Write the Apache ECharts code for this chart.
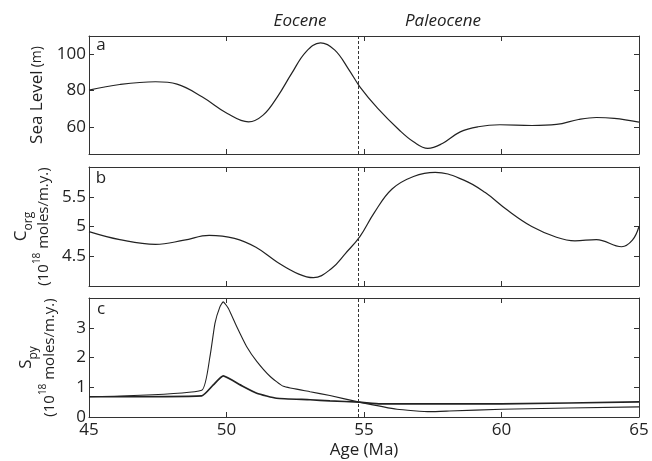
<!DOCTYPE html>
<html>
<head>
<meta charset="utf-8">
<script src="https://cdn.jsdelivr.net/npm/echarts@6/dist/echarts.min.js"></script>
<style>
  html, body { margin: 0; padding: 0; background: #fff; }
  #chart { width: 652px; height: 461px; }
</style>
</head>
<body>
<div id="chart"></div>
<script>
// age axis (Ma)
const ageTicks = [45, 50, 55, 60, 65]
const epochBoundary = 54.8

// panel a: sea level (m)
const ageA = [45, 46.12, 47.42, 48.2, 49.11, 50.03, 50.8, 51.33, 51.85, 52.37, 52.89, 53.42, 53.94, 54.46, 54.85, 55.5, 56.28, 56.8, 57.32, 57.85, 58.5, 59.15, 59.94, 61.1, 62.0, 62.8, 63.45, 64.1, 65]
const seaLevel = [80.2, 83.3, 84.8, 83.5, 76.5, 67.3, 62.7, 66.4, 76.5, 89.4, 101.3, 106.2, 102.2, 91.2, 82, 70.1, 58.2, 51.7, 48.1, 50.8, 57.2, 60, 61.1, 60.7, 61.3, 64, 65.1, 64.6, 62.6]
const ticksA = [60, 80, 100]

// panel b: Corg burial (10^18 moles/m.y.)
const ageB = [45, 46.12, 47.42, 48.46, 49.37, 50.29, 51.07, 51.85, 52.63, 53.16, 53.81, 54.33, 54.85, 55.37, 56.02, 56.8, 57.59, 58.63, 59.41, 60.2, 61.1, 62.0, 62.67, 63.45, 64.37, 64.76, 65]
const corg = [4.915, 4.78, 4.70, 4.77, 4.85, 4.80, 4.65, 4.40, 4.20, 4.14, 4.29, 4.55, 4.83, 5.23, 5.63, 5.84, 5.91, 5.78, 5.57, 5.28, 5.0, 4.82, 4.76, 4.78, 4.66, 4.77, 5.0]
const ticksB = [4.5, 5, 5.5]

// panel c: pyrite burial (10^18 moles/m.y.), two runs
const ageHigh = [45, 49.1, 49.4, 49.58, 49.76, 49.88, 50.07, 50.37, 50.73, 51.1, 51.58, 52.07, 53.04, 53.76, 54.83, 56.2, 57.4, 58.1, 60, 65]
const spyHigh = [0.68, 0.9, 2.04, 3.15, 3.7, 3.87, 3.65, 3.04, 2.37, 1.87, 1.37, 1.03, 0.85, 0.72, 0.5, 0.26, 0.18, 0.2, 0.26, 0.34]
const ageLow = [45, 49.1, 49.52, 49.88, 50.5, 51.1, 51.82, 53.04, 53.76, 54.83, 55.6, 58.1, 60, 65]
const spyLow = [0.68, 0.71, 1.08, 1.38, 1.08, 0.8, 0.63, 0.58, 0.54, 0.5, 0.44, 0.44, 0.44, 0.51]
const ticksC = [0, 1, 2, 3]

const FONT = '"Open Sans", "Noto Sans", sans-serif'
const INK = '#222'
const FRAME = '#333'

const pairs = (xs, ys) => xs.map((x, i) => [x, ys[i]])

const grids = [
  { left: 89, right: 13, top: 36, height: 118 },
  { left: 89, right: 13, top: 167, height: 119 },
  { left: 89, right: 13, top: 298, height: 119 },
]

function xAxisPair(gi, withLabels) {
  const base = {
    gridIndex: gi,
    type: 'value',
    min: ageTicks[0],
    max: ageTicks[ageTicks.length - 1],
    interval: ageTicks[1] - ageTicks[0],
    axisLine: { show: true, onZero: false, lineStyle: { color: FRAME, width: 1 } },
    axisTick: { show: true, inside: true, length: 5, lineStyle: { color: FRAME } },
    splitLine: { show: false },
  }
  const bottom = Object.assign({}, base, {
    position: 'bottom',
    axisLabel: { show: withLabels, color: INK, fontSize: 17, fontFamily: FONT, margin: 5, showMinLabel: true, showMaxLabel: true },
  })
  if (withLabels) {
    Object.assign(bottom, {
      name: 'Age (Ma)',
      nameLocation: 'middle',
      nameGap: 25,
      nameTextStyle: { color: INK, fontSize: 17, fontFamily: FONT },
    })
  }
  const top = Object.assign({}, base, { position: 'top', axisLabel: { show: false } })
  return [bottom, top]
}

function yAxisPair(gi, min, max, ticks, name, nameGap, rich) {
  const base = {
    gridIndex: gi,
    type: 'value',
    min: min,
    max: max,
    axisLine: { show: true, onZero: false, lineStyle: { color: FRAME, width: 1 } },
    axisTick: { show: true, inside: true, length: 5, customValues: ticks, lineStyle: { color: FRAME } },
    splitLine: { show: false },
  }
  const left = Object.assign({}, base, {
    position: 'left',
    axisLabel: { show: true, customValues: ticks, color: INK, fontSize: 17, fontFamily: FONT, margin: 3 },
    name: name,
    nameLocation: 'middle',
    nameRotate: 90,
    nameGap: nameGap,
    nameTextStyle: { color: INK, fontFamily: FONT, rich: rich },
  })
  const right = Object.assign({}, base, { position: 'right', axisLabel: { show: false } })
  return [left, right]
}

const richA = {
  t: { fontSize: 17, fontFamily: FONT, color: INK },
  u: { fontSize: 14, fontFamily: FONT, color: INK },
}
const richFlux = {
  t: { fontSize: 17, fontFamily: FONT, color: INK, lineHeight: 20, verticalAlign: 'top' },
  s: { fontSize: 12, fontFamily: FONT, color: INK, lineHeight: 14, padding: [10, 0, 0, 0], verticalAlign: 'top' },
  p: { fontSize: 15, fontFamily: FONT, color: INK, lineHeight: 18, padding: [4, 0, 0, 0], verticalAlign: 'top' },
  e: { fontSize: 10, fontFamily: FONT, color: INK, lineHeight: 12, verticalAlign: 'top' },
}

const xAxes = [].concat(xAxisPair(0, false), xAxisPair(1, false), xAxisPair(2, true))
const yAxes = [].concat(
  yAxisPair(0, 45, 110, ticksA, '{t|Sea Level} {u|(m)}', 37, richA),
  yAxisPair(1, 4, 6, ticksB, '{t|C}{s|org}\n{p|(10}{e|18}{p| moles/m.y.)}', 33, richFlux),
  yAxisPair(2, 0, 4, ticksC, '{t|S}{s|py}\n{p|(10}{e|18}{p| moles/m.y.)}', 33, richFlux),
)

const boundaryLine = {
  silent: true,
  symbol: ['none', 'none'],
  label: { show: false },
  lineStyle: { color: FRAME, width: 1, type: [3, 2] },
  data: [{ xAxis: epochBoundary }],
}

function curve(xi, yi, data, width, smooth) {
  return {
    type: 'line',
    xAxisIndex: xi,
    yAxisIndex: yi,
    data: data,
    smooth: smooth,
    showSymbol: false,
    symbol: 'none',
    lineStyle: { color: INK, width: width },
    animation: false,
  }
}

const series = [
  Object.assign(curve(0, 0, pairs(ageA, seaLevel), 1.2, 0.4), { markLine: boundaryLine }),
  Object.assign(curve(2, 2, pairs(ageB, corg), 1.2, 0.4), { markLine: boundaryLine }),
  Object.assign(curve(4, 4, pairs(ageHigh, spyHigh), 1.1, 0.15), { markLine: boundaryLine }),
  curve(4, 4, pairs(ageLow, spyLow), 1.7, 0.15),
]

function label(text, x, y, italic) {
  return {
    type: 'text',
    x: x,
    y: y,
    style: {
      text: text,
      fill: INK,
      font: (italic ? 'italic ' : '') + '17px ' + FONT,
      textAlign: 'center',
      textVerticalAlign: 'middle',
    },
  }
}

const chart = echarts.init(document.getElementById('chart'), null, { renderer: 'canvas' })
chart.setOption({
  backgroundColor: '#fff',
  animation: false,
  grid: grids,
  xAxis: xAxes,
  yAxis: yAxes,
  series: series,
  graphic: [
    label('Eocene', 300, 21, true),
    label('Paleocene', 443, 21, true),
    label('a', 101, 45, false),
    label('b', 101, 178, false),
    label('c', 101, 309, false),
  ],
})
</script>
</body>
</html>
